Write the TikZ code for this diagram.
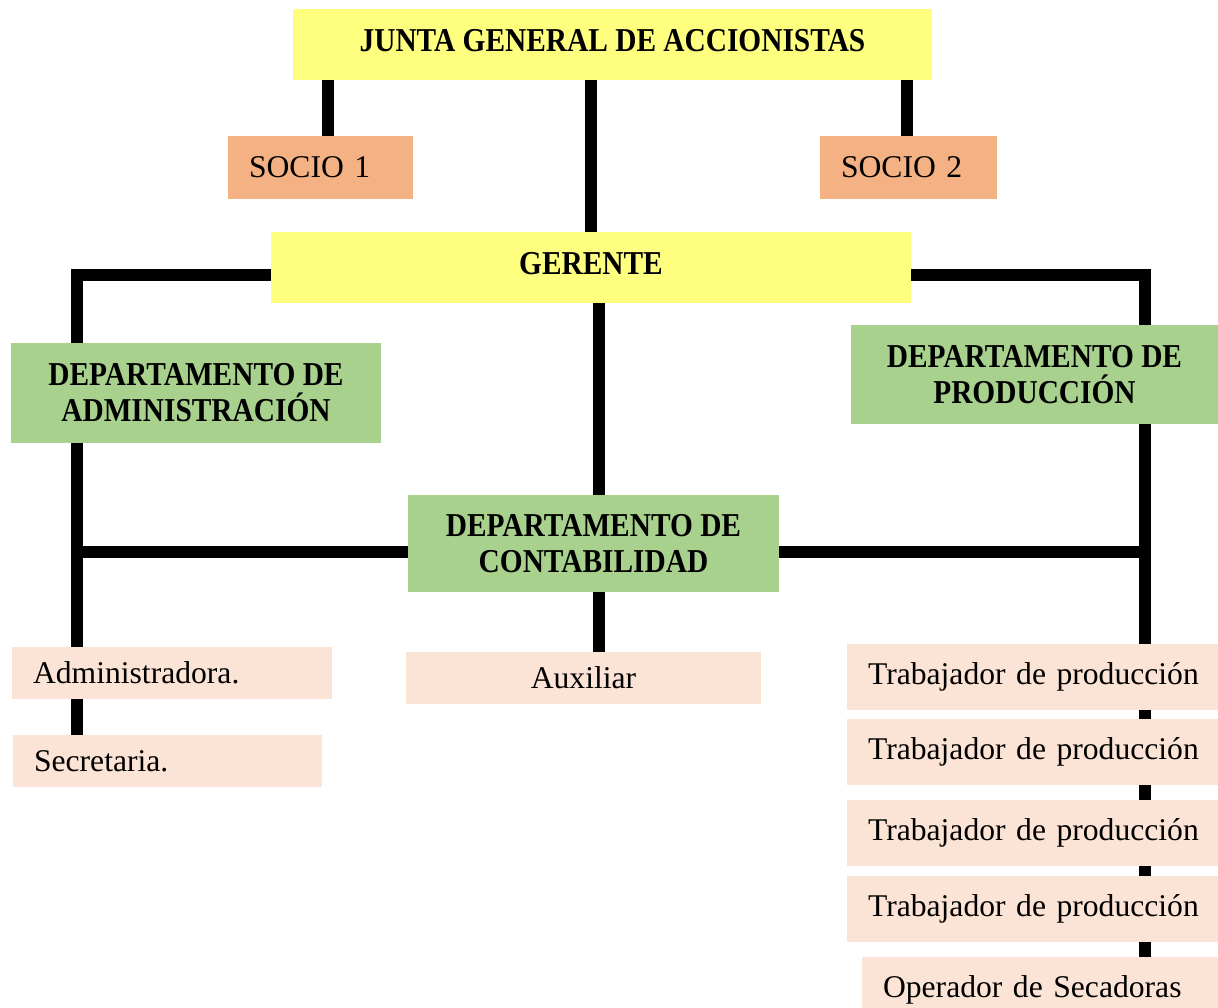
\documentclass[tikz,border=0pt]{standalone}
\usepackage{fontspec}
\setmainfont{Liberation Serif}
\newfontfamily\titulo{Liberation Serif}[FakeStretch=0.88]
\definecolor{amarillo}{HTML}{FFFF7F}
\definecolor{salmon}{HTML}{F4B183}
\definecolor{verde}{HTML}{A9D18E}
\definecolor{rosa}{HTML}{FBE4D5}

\begin{document}
\begin{tikzpicture}[x=0.02cm,y=-0.02cm,
    jefe/.style={fill=amarillo, inner sep=0pt, text depth=4.6pt, font={\titulo\bfseries\fontsize{19}{21}\selectfont}},
    depto/.style={fill=verde, inner sep=0pt, align=center, font={\titulo\bfseries\fontsize{19}{20.5}\selectfont}},
    socio/.style={fill=salmon, inner ysep=0pt, inner xsep=0.42cm, align=left, font={\fontsize{18}{21}\selectfont}},
    cargo/.style={fill=rosa, inner ysep=0pt, inner xsep=0.42cm, align=left, font={\fontsize{18}{21}\selectfont}},
    linea/.style={line width=6.5pt}]
    \clip (0,0) rectangle (1218,1008);

    \node[jefe, minimum width=12.78cm, minimum height=1.42cm] (junta) at (612.5,44.5) {JUNTA GENERAL DE ACCIONISTAS};
    \node[socio, text width=2.86cm, minimum height=1.26cm] (socio1) at (320.5,167.5) {SOCIO 1};
    \node[socio, text width=2.7cm, minimum height=1.26cm] (socio2) at (908.5,167.5) {SOCIO 2};
    \node[jefe, minimum width=12.8cm, minimum height=1.42cm] (gerente) at (591,267.5) {GERENTE};

    \node[depto, minimum width=7.4cm, minimum height=2cm] (admin) at (196,393) {DEPARTAMENTO DE\\ADMINISTRACIÓN};
    \node[depto, minimum width=7.34cm, minimum height=1.98cm] (prod) at (1034.5,374.5) {DEPARTAMENTO DE\\PRODUCCIÓN};
    \node[depto, minimum width=7.42cm, minimum height=1.94cm] (conta) at (593.5,543.5) {DEPARTAMENTO DE\\CONTABILIDAD};

    \node[cargo, text width=5.56cm, minimum height=1.04cm] (adm) at (172,673) {Administradora.};
    \node[cargo, text width=5.34cm, minimum height=1.04cm] (secre) at (167.5,761) {Secretaria.};
    \node[cargo, align=center, text width=6.26cm, minimum height=1.04cm] (aux) at (583.5,678) {Auxiliar};
    \foreach \n/\y in {1/677,2/752,3/833,4/909}
        \node[cargo, text width=6.58cm, minimum height=1.32cm] (trab\n) at (1032.5,\y) {\mbox{Trabajador de producción}};
    \node[cargo, text width=6.28cm, minimum height=1.32cm] (oper) at (1040,990) {\mbox{Operador de Secadoras}};

    \coordinate (s1) at (328,0);
    \coordinate (s2) at (907,0);
    \coordinate (colC) at (599,0);
    \coordinate (codoL) at (77,275);
    \coordinate (codoR) at (1145,275);
    \coordinate (cruceL) at (77,552);
    \coordinate (cruceR) at (1145,552);

    \draw[linea] (junta.south -| s1) -- (socio1.north -| s1);
    \draw[linea] (junta.south -| s2) -- (socio2.north -| s2);
    \draw[linea] (junta.south -| gerente.north) -- (gerente.north);
    \draw[linea] (gerente.west |- codoL) -- (codoL) -- (admin.north -| codoL);
    \draw[linea] (gerente.east |- codoR) -- (codoR) -- (prod.north -| codoR);
    \draw[linea] (gerente.south -| colC) -- (conta.north -| colC);
    \draw[linea] (conta.south -| colC) -- (aux.north -| colC);
    \draw[linea] (conta.west |- cruceL) -- (cruceL);
    \draw[linea] (conta.east |- cruceR) -- (cruceR);
    \draw[linea] (admin.south -| codoL) -- (adm.north -| codoL);
    \draw[linea] (adm.south -| codoL) -- (secre.north -| codoL);
    \draw[linea] (prod.south -| codoR) -- (trab1.north -| codoR);
    \foreach \a/\b in {trab1/trab2,trab2/trab3,trab3/trab4,trab4/oper}
        \draw[linea] (\a.south -| codoR) -- (\b.north -| codoR);
\end{tikzpicture}
\end{document}
